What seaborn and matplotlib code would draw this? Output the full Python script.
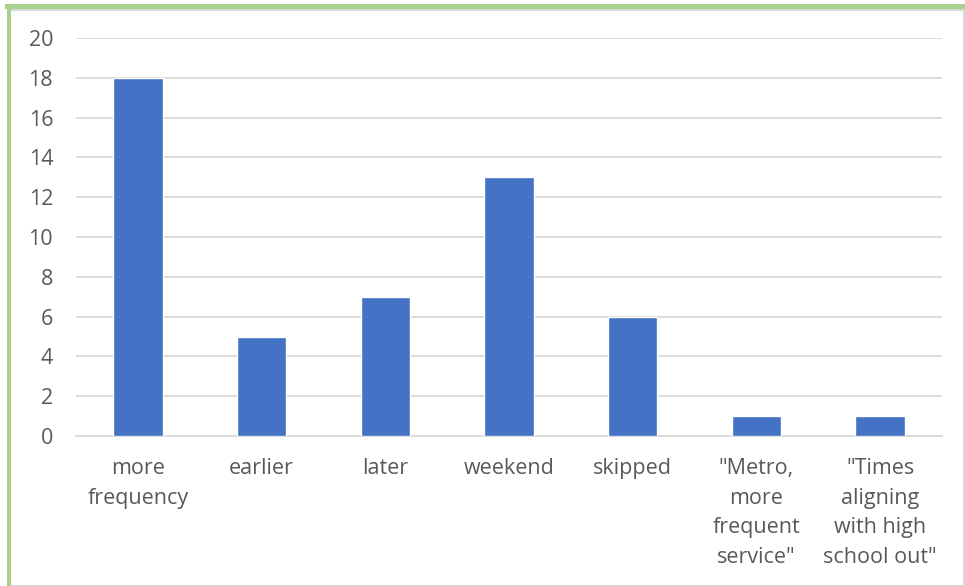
import matplotlib
matplotlib.use("Agg")
import matplotlib.pyplot as plt
import seaborn as sns
import pandas as pd
from matplotlib.patches import Rectangle

categories = ["more\nfrequency", "earlier", "later", "weekend", "skipped",
              "\"Metro,\nmore\nfrequent\nservice\"",
              "\"Times\naligning\nwith high\nschool out\""]
counts = [18, 5, 7, 13, 6, 1, 1]
y_ticks = [0, 2, 4, 6, 8, 10, 12, 14, 16, 18, 20]

sns.set_theme(style="white")
plt.rcParams["font.family"] = ["Open Sans", "DejaVu Sans"]

df = pd.DataFrame({"category": categories, "count": counts})

fig = plt.figure(figsize=(9.65, 5.86), dpi=100)
ax = fig.add_axes([76 / 965, 1 - 436 / 586, 866 / 965, 398 / 586])

sns.barplot(data=df, x="category", y="count", color="#4472c4", width=0.4,
            saturation=1, ax=ax, zorder=3)

ax.set_ylim(0, 20)
ax.set_yticks(y_ticks)
ax.set_xlim(-0.5, len(categories) - 0.5)
ax.grid(axis="y", color="#d9d9d9", linewidth=1.3, zorder=0)
ax.set_xlabel("")
ax.set_ylabel("")
for side in ["top", "right", "left"]:
    ax.spines[side].set_visible(False)
ax.spines["bottom"].set_color("#d9d9d9")
ax.spines["bottom"].set_linewidth(1.3)
ax.tick_params(axis="both", length=0, colors="#595959", labelsize=15.5)
ax.tick_params(axis="y", pad=16.5)
ax.tick_params(axis="x", pad=16)
for lbl in ax.get_xticklabels():
    lbl.set_linespacing(1.53)
    lbl.set_verticalalignment("top")

# chart frame: light gray outline with a green accent on top and left
fig.patches.append(Rectangle((10 / 965, 0.5 / 586), 954 / 965, 576 / 586,
                             transform=fig.transFigure, fill=False,
                             edgecolor="#d9d9d9", linewidth=1.5))
fig.patches.append(Rectangle((5 / 965, 1 - 9 / 586), 960 / 965, 5 / 586,
                             transform=fig.transFigure, color="#a9d18e",
                             linewidth=0))
fig.patches.append(Rectangle((7 / 965, 0), 3.5 / 965, 1 - 4 / 586,
                             transform=fig.transFigure, color="#a9d18e",
                             linewidth=0))

fig.savefig("out.png", dpi=100)
